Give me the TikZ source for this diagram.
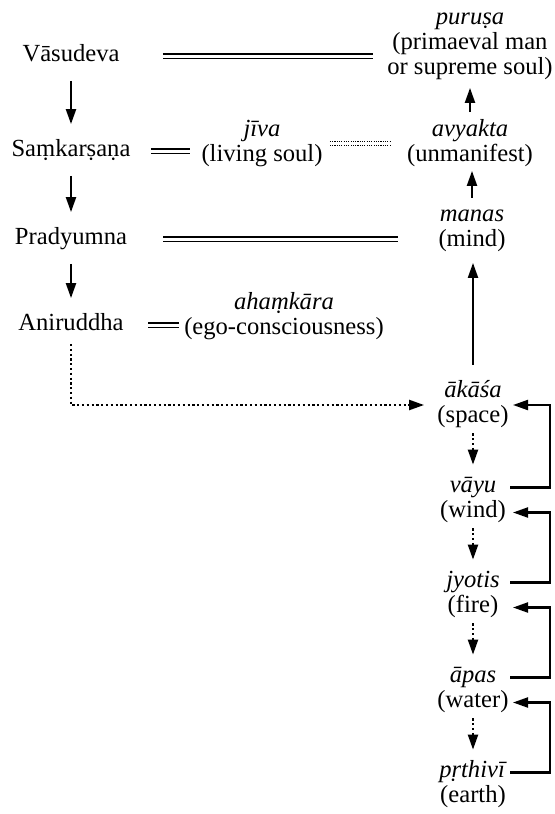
\documentclass[tikz,border=0pt]{standalone}
\usepackage{fontspec}
\setmainfont{Liberation Serif}
\usetikzlibrary{arrows.meta, calc, positioning}

% name in italics over its gloss
\newcommand{\pair}[2]{\textit{#1}\strut\\#2\strut}

\begin{document}
\begin{tikzpicture}[x=0.5pt, y=-0.5pt,
    every node/.style={inner sep=0pt, font=\fontsize{12.3}{12.5}\selectfont},
    term/.style={align=center},
    arr/.style={-{Triangle[length=7.5pt,width=5pt]}, line width=1.05pt},
    dotarr/.style={arr, line width=1.1pt, dash pattern=on 1.1pt off 1.3pt},
    same/.style={double, double distance=1.5pt, line width=0.6pt},
    faint/.style={double, double distance=1.3pt, line width=0.55pt, dash pattern=on 0.55pt off 0.6pt}]
  \useasboundingbox (0,0) rectangle (555,814);

  % the four vyuhas
  \node (vasudeva) at (71,56) {Vāsudeva\strut};
  \node (samkarsana) at (71,151) {Saṃkarṣaṇa\strut};
  \node (pradyumna) at (71,239) {Pradyumna\strut};
  \node (aniruddha) at (71,325) {Aniruddha\strut};

  % what they stand for
  \node[term] (purusa) at (470,44) {\textit{puruṣa}\strut\\(primaeval man\strut\\or supreme soul)\strut};
  \node[term] (jiva) at (262,143.5) {\pair{jīva}{(living soul)}};
  \node[term] (avyakta) at (470,143.5) {\pair{avyakta}{(unmanifest)}};
  \node[term] (manas) at (472,228.5) {\pair{manas}{(mind)}};
  \node[term] (ahamkara) at (284,316.5) {\pair{ahaṃkāra}{(ego-consciousness)}};

  % the five elements
  \foreach \n/\name/\gloss/\y in {akasa/ākāśa/space/405, vayu/vāyu/wind/500,
      jyotis/jyotis/fire/595, apas/āpas/water/690, prthivi/pṛthivī/earth/785}
    \node[term] (\n) at (473,\y) {\pair{\name}{(\gloss)}};

  % identities
  \draw[same, shorten <=21.5pt, shorten >=7pt] (vasudeva.east) -- (vasudeva.east -| purusa.west);
  \draw[same, shorten <=10pt, shorten >=5.5pt] (samkarsana.east) -- (samkarsana.east -| jiva.west);
  \draw[faint, shorten <=3.5pt, shorten >=8.5pt] (jiva.east) -- (jiva.east -| avyakta.west);
  \draw[same, shorten <=18pt, shorten >=20pt] (pradyumna.east) -- (pradyumna.east -| manas.west);
  \draw[same, shorten <=12pt, shorten >=2.5pt] (aniruddha.east) -- (aniruddha.east -| ahamkara.west);

  % emanation
  \foreach \a/\b in {vasudeva/samkarsana, samkarsana/pradyumna, pradyumna/aniruddha}
    \draw[arr, shorten <=6pt, shorten >=7pt] (\a.south) -- (\b.north);
  \draw[arr, shorten <=3pt, shorten >=3pt] (avyakta.north) -- (purusa.south);
  \draw[arr, shorten <=2.75pt, shorten >=1pt] (manas.north) -- (manas.north |- avyakta.south);
  \draw[arr, shorten <=7.5pt, shorten >=4.5pt] (akasa.north) -- (akasa.north |- manas.south);
  \draw[dotarr, shorten <=3pt, shorten >=6.5pt] (aniruddha.south) |- (akasa.west);
  \foreach \a/\b in {akasa/vayu, vayu/jyotis, jyotis/apas, apas/prthivi}
    \draw[dotarr, shorten <=1.5pt, shorten >=5pt] (\a.south) -- (\b.north);

  % each element returns to the one before
  \foreach \lo/\hi/\dy in {vayu/akasa/0, jyotis/vayu/12.5, apas/jyotis/12.5, prthivi/apas/12.5}
    \draw[arr] ($(\lo)+(37,-12.5)$) -| ($(\hi)+(77,\dy)$) -- ($(\hi)+(40,\dy)$);
\end{tikzpicture}
\end{document}
